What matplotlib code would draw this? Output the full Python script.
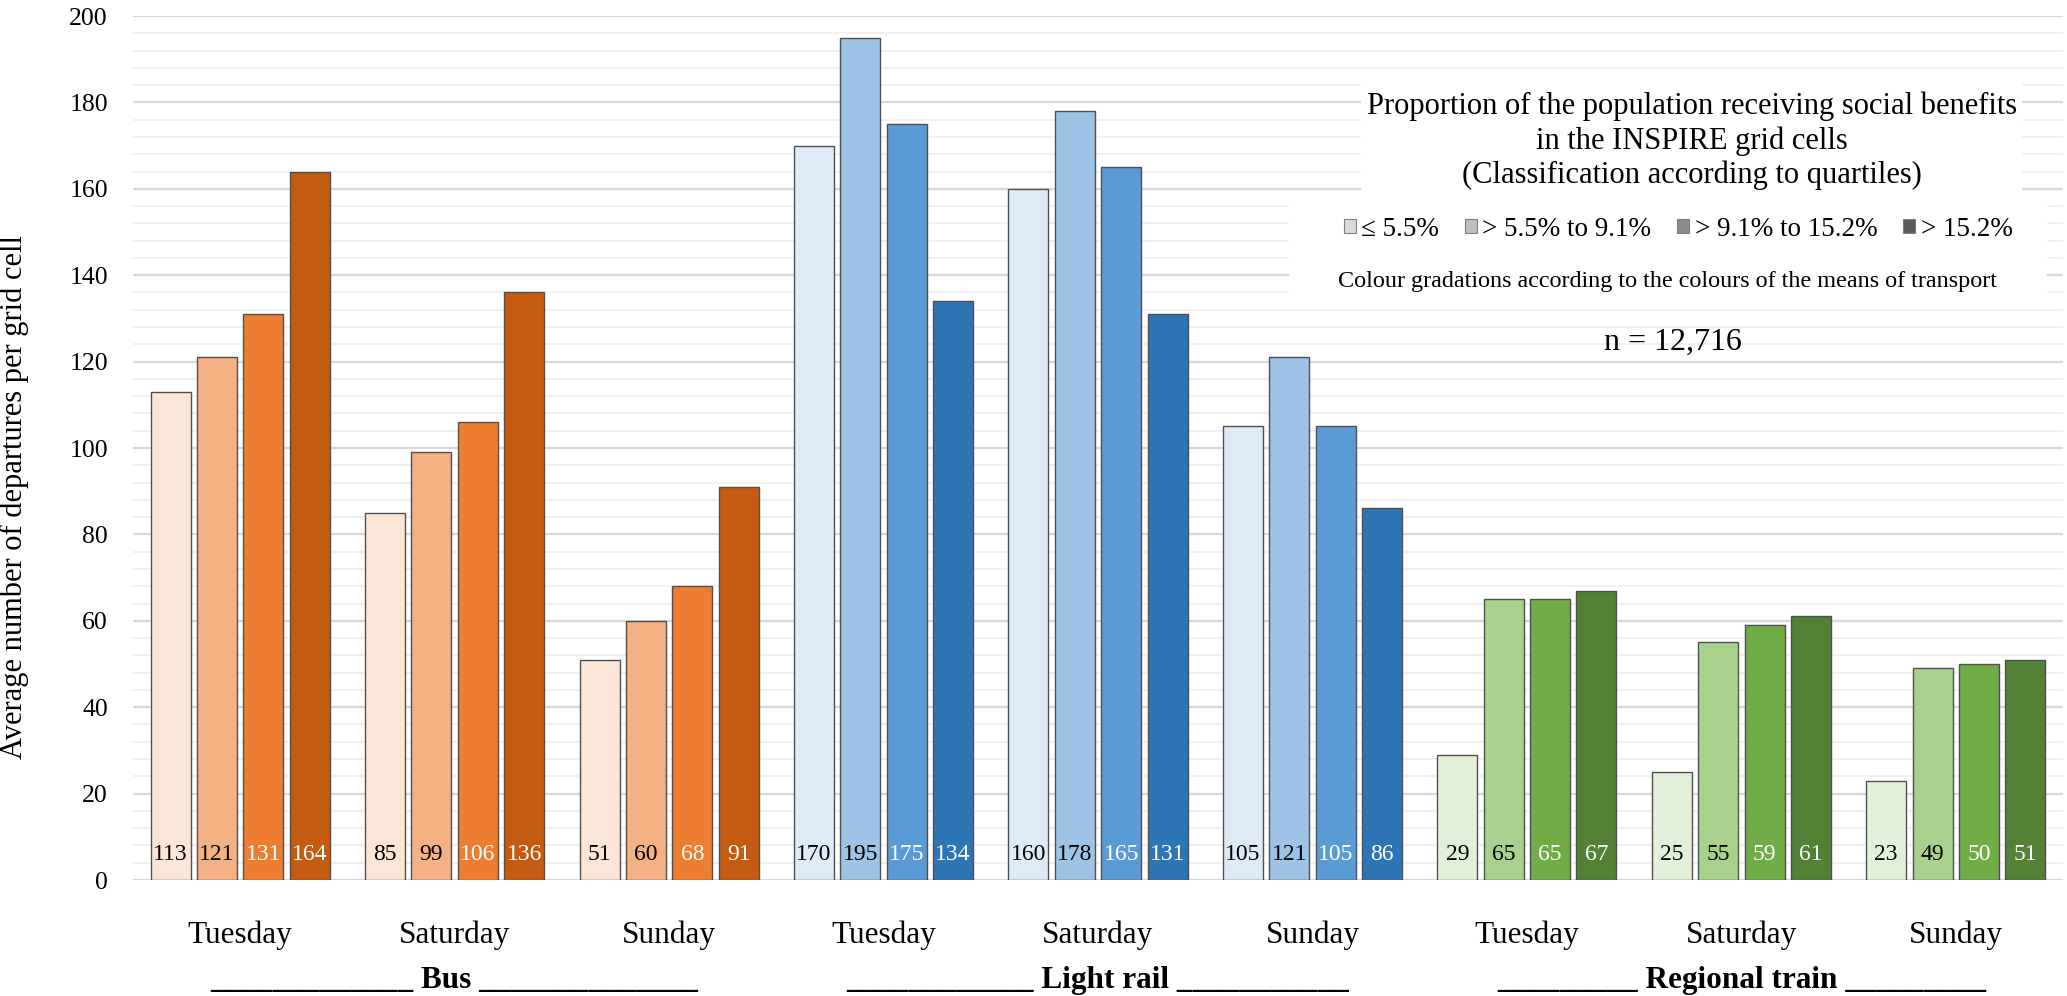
import matplotlib
matplotlib.use("Agg")
import matplotlib.pyplot as plt
from matplotlib.patches import Rectangle, Patch
import numpy as np

plt.rcParams['font.family'] = ['Liberation Serif', 'DejaVu Serif']

# ---------------- data ----------------
modes = ["Bus", "Light rail", "Regional train"]
days = ["Tuesday", "Saturday", "Sunday"]
quartiles = ["≤ 5.5%", "> 5.5% to 9.1%", "> 9.1% to 15.2%", "> 15.2%"]

bus = [[113, 121, 131, 164], [85, 99, 106, 136], [51, 60, 68, 91]]
light_rail = [[170, 195, 175, 134], [160, 178, 165, 131], [105, 121, 105, 86]]
regional = [[29, 65, 65, 67], [25, 55, 59, 61], [23, 49, 50, 51]]

bus_colors = ["#FBE5D6", "#F4B183", "#ED7D31", "#C55A11"]
lr_colors = ["#DEEBF7", "#9DC3E6", "#5B9BD5", "#2E75B6"]
rt_colors = ["#E2F0D9", "#A9D18E", "#70AD47", "#538135"]
legend_colors = ["#D9D9D9", "#BFBFBF", "#8C8C8C", "#595959"]
label_text_colors = ["black", "black", "white", "white"]

group_labels = ["_____________ Bus ______________",
                "____________ Light rail ___________",
                "_________ Regional train _________"]

title_lines = ("Proportion of the population receiving social benefits\n"
               "in the INSPIRE grid cells\n"
               "(Classification according to quartiles)")
colour_note = "Colour gradations according to the colours of the means of transport"
n_note = "n = 12,716"
ylabel = "Average number of departures per grid cell"

# ---------------- figure ----------------
W, H = 2067, 996
fig = plt.figure(figsize=(W / 100, H / 100), dpi=100)
ax_left, ax_right, ax_top, ax_bot = 133, 2063, 16, 880
ax = fig.add_axes([ax_left / W, 1 - ax_bot / H, (ax_right - ax_left) / W, (ax_bot - ax_top) / H])

all_data = [bus, light_rail, regional]
all_colors = [bus_colors, lr_colors, rt_colors]
pitch = 0.2163
bw = 0.1865

g = 0
for m, (data, cols) in enumerate(zip(all_data, all_colors)):
    for d, vals in enumerate(data):
        for j, v in enumerate(vals):
            x = g + (j - 1.5) * pitch
            ax.bar(x, v, width=bw, color=cols[j], edgecolor="#505050", linewidth=1.0, zorder=2)
            ax.text(x, 4.6, f"{v:d}", ha="center", va="baseline", fontsize=17,
                    color=label_text_colors[j], zorder=3)
        g += 1

ax.set_xlim(-0.5, 8.5)
ax.set_ylim(0, 200)
ax.set_yticks(np.arange(0, 201, 20))
ax.set_yticks(np.arange(0, 201, 4), minor=True)
ax.set_xticks([])
ax.tick_params(axis="y", which="both", length=0, pad=18, labelsize=18.5)
ax.grid(axis="y", which="major", color="#D9D9D9", linewidth=1.6, zorder=0)
ax.grid(axis="y", which="minor", color="#EFEFEF", linewidth=1.2, zorder=0)
ax.set_axisbelow(True)
for s in ax.spines.values():
    s.set_visible(False)

# category labels
trans = ax.get_xaxis_transform()
axh = ax_bot - ax_top
g = 0
for m in range(3):
    for d in range(3):
        ax.text(g, -(943 - ax_bot) / axh, days[d], transform=trans, ha="center",
                va="baseline", fontsize=22.5, clip_on=False)
        g += 1
    ax.text(3 * m + 1, -(988 - ax_bot) / axh, group_labels[m], transform=trans,
            ha="center", va="baseline", fontsize=22.5, fontweight="bold", clip_on=False)

# y label
fig.text(14 / W, 1 - 497 / H, ylabel, rotation=90, ha="center", va="center", fontsize=22)

# white boxes behind legend texts
ax.add_patch(Rectangle((1361 / W, 1 - 196 / H), (2022 - 1361) / W, (196 - 80) / H,
                       transform=fig.transFigure, facecolor="white", edgecolor="none",
                       zorder=1, clip_on=False))
ax.add_patch(Rectangle((1289 / W, 1 - 302 / H), (2047 - 1289) / W, (302 - 195) / H,
                       transform=fig.transFigure, facecolor="white", edgecolor="none",
                       zorder=1, clip_on=False))

fig.text(1692 / W, 1 - 141 / H, title_lines, ha="center", va="center", fontsize=22,
         linespacing=1.22, multialignment="center")

handles = [Patch(facecolor=c, edgecolor="#7F7F7F", linewidth=0.8) for c in legend_colors]
leg = fig.legend(handles, quartiles, loc="center", bbox_to_anchor=(1678 / W, 1 - 229 / H),
                 ncol=4, frameon=False, fontsize=19.5, handlelength=0.45, handleheight=0.45,
                 handletextpad=0.2, columnspacing=0.95, borderaxespad=0)

fig.text(1668 / W, 1 - 282 / H, colour_note, ha="center", va="center", fontsize=17.4)
fig.text(1673 / W, 1 - 342 / H, n_note, ha="center", va="center", fontsize=23)

fig.savefig("out.png", dpi=100, facecolor="white")
